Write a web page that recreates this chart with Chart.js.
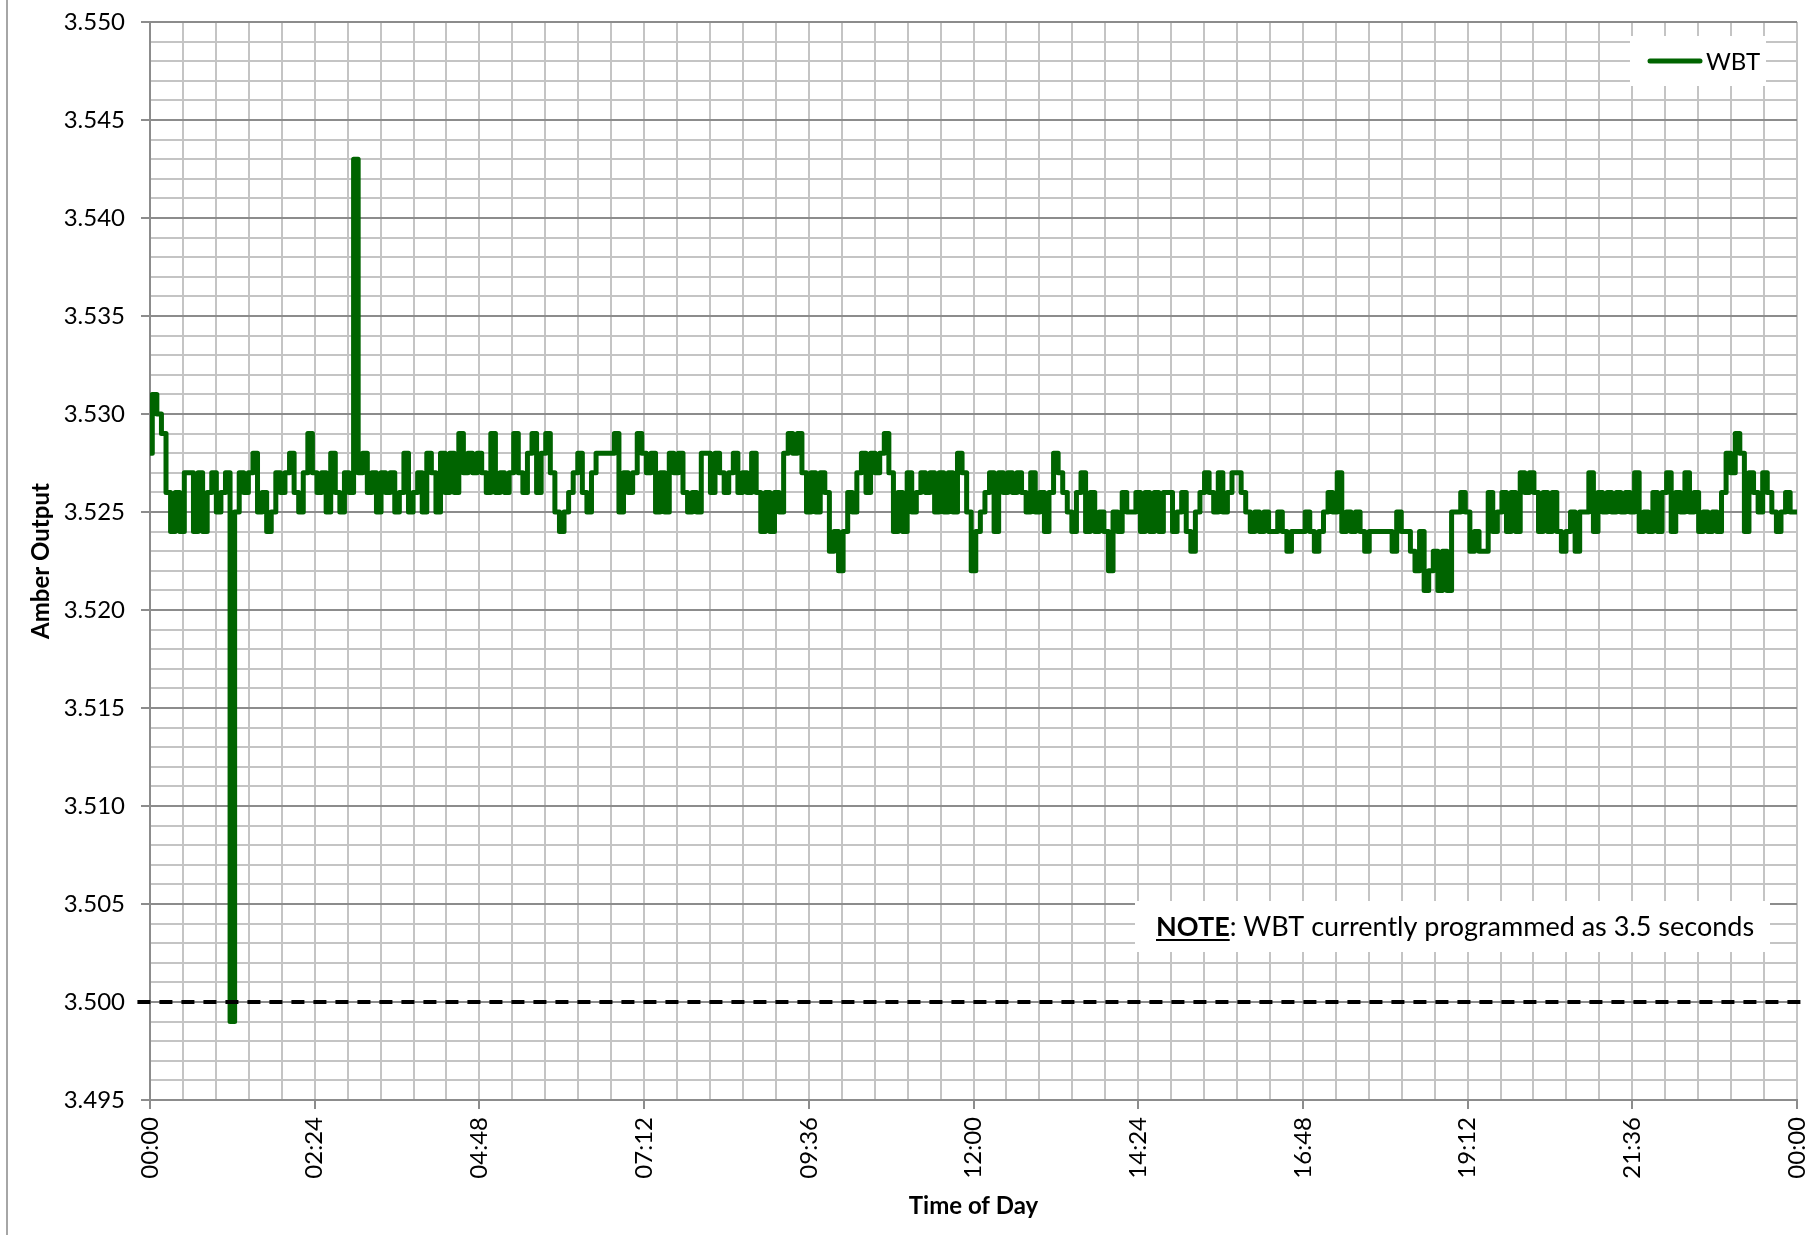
<!DOCTYPE html>
<html>
<head>
<meta charset="utf-8">
<title>Amber Output - WBT</title>
<script src="https://cdn.jsdelivr.net/npm/chart.js@4.4.1/dist/chart.umd.min.js"></script>
<style>
  html, body { margin: 0; padding: 0; background: #fff; }
  canvas { display: block; }
</style>
</head>
<body>
<canvas id="wbt-chart" width="1816" height="1235"></canvas>
<script>
// amber output in seconds, one reading every 4 minutes
const SAMPLE_MINUTES = 4;

// 00:00 - 04:48
const amberNight = [
  3.528, 3.531, 3.530, 3.529, 3.526, 3.524, 3.526, 3.524, 3.527, 3.527,
  3.524, 3.527, 3.524, 3.526, 3.527, 3.525, 3.526, 3.527, 3.499, 3.525,
  3.527, 3.526, 3.527, 3.528, 3.525, 3.526, 3.524, 3.525, 3.527, 3.526,
  3.527, 3.528, 3.526, 3.525, 3.527, 3.529, 3.527, 3.526, 3.527, 3.525,
  3.528, 3.526, 3.525, 3.527, 3.526, 3.543, 3.527, 3.528, 3.526, 3.527,
  3.525, 3.527, 3.526, 3.527, 3.525, 3.526, 3.528, 3.525, 3.526, 3.527,
  3.525, 3.528, 3.527, 3.525, 3.528, 3.526, 3.528, 3.526, 3.529, 3.527,
  3.528, 3.527, 3.528
];
// 04:52 - 09:36
const amberMorning = [
  3.527, 3.526, 3.529, 3.526, 3.527, 3.526, 3.527, 3.529, 3.527, 3.526,
  3.528, 3.529, 3.526, 3.528, 3.529, 3.527, 3.525, 3.524, 3.525, 3.526,
  3.527, 3.528, 3.526, 3.525, 3.527, 3.528, 3.528, 3.528, 3.528, 3.529,
  3.525, 3.527, 3.526, 3.527, 3.529, 3.528, 3.527, 3.528, 3.525, 3.527,
  3.525, 3.528, 3.527, 3.528, 3.526, 3.525, 3.526, 3.525, 3.528, 3.528,
  3.526, 3.528, 3.527, 3.526, 3.527, 3.528, 3.526, 3.527, 3.526, 3.528,
  3.526, 3.524, 3.526, 3.524, 3.526, 3.525, 3.528, 3.529, 3.528, 3.529,
  3.527, 3.525
];
// 09:40 - 14:24
const amberMidday = [
  3.527, 3.525, 3.527, 3.526, 3.523, 3.524, 3.522, 3.524, 3.526, 3.525,
  3.527, 3.528, 3.526, 3.528, 3.527, 3.528, 3.529, 3.527, 3.524, 3.526,
  3.524, 3.527, 3.525, 3.526, 3.527, 3.526, 3.527, 3.525, 3.527, 3.525,
  3.527, 3.525, 3.528, 3.527, 3.525, 3.522, 3.524, 3.525, 3.526, 3.527,
  3.524, 3.527, 3.526, 3.527, 3.526, 3.527, 3.526, 3.525, 3.527, 3.525,
  3.526, 3.524, 3.526, 3.528, 3.527, 3.526, 3.525, 3.524, 3.526, 3.527,
  3.524, 3.526, 3.524, 3.525, 3.524, 3.522, 3.525, 3.524, 3.526, 3.525,
  3.525, 3.526
];
// 14:28 - 19:12
const amberAfternoon = [
  3.524, 3.526, 3.524, 3.526, 3.524, 3.526, 3.526, 3.524, 3.525, 3.526,
  3.524, 3.523, 3.525, 3.526, 3.527, 3.526, 3.525, 3.527, 3.525, 3.526,
  3.527, 3.527, 3.526, 3.525, 3.524, 3.525, 3.524, 3.525, 3.524, 3.524,
  3.525, 3.524, 3.523, 3.524, 3.524, 3.524, 3.525, 3.524, 3.523, 3.524,
  3.525, 3.526, 3.525, 3.527, 3.524, 3.525, 3.524, 3.525, 3.524, 3.523,
  3.524, 3.524, 3.524, 3.524, 3.524, 3.523, 3.525, 3.524, 3.524, 3.523,
  3.522, 3.524, 3.521, 3.522, 3.523, 3.521, 3.523, 3.521, 3.525, 3.525,
  3.526, 3.525
];
// 19:16 - 24:00
const amberEvening = [
  3.523, 3.524, 3.523, 3.523, 3.526, 3.524, 3.525, 3.526, 3.524, 3.526,
  3.524, 3.527, 3.526, 3.527, 3.526, 3.524, 3.526, 3.524, 3.526, 3.524,
  3.523, 3.524, 3.525, 3.523, 3.525, 3.525, 3.527, 3.524, 3.526, 3.525,
  3.526, 3.525, 3.526, 3.525, 3.526, 3.525, 3.527, 3.524, 3.525, 3.524,
  3.526, 3.524, 3.526, 3.527, 3.524, 3.526, 3.525, 3.527, 3.525, 3.526,
  3.524, 3.525, 3.524, 3.525, 3.524, 3.526, 3.528, 3.527, 3.529, 3.528,
  3.524, 3.527, 3.526, 3.525, 3.527, 3.526, 3.525, 3.524, 3.525, 3.526,
  3.525, 3.525
];

const amber = [...amberNight, ...amberMorning, ...amberMidday, ...amberAfternoon, ...amberEvening];

// programmed WBT, drawn slightly past both ends of the day (minutes)
const wbtSetting = 3.5;
const wbtSpan = [-11, 1446];

// axes
const yRange = [3.495, 3.55];
const yMajorStep = 0.005;
const yMinorStep = 0.001;
const xRange = [0, 1440];
const xMajorStep = 144;   // 02:24
const xMinorStep = 28.8;

const NOTE_LEAD = 'NOTE';
const NOTE_TEXT = ': WBT currently programmed as 3.5 seconds';

const FONT = 'Lato, "Open Sans", sans-serif';
Chart.defaults.font.family = FONT;
Chart.defaults.color = '#000';

const isMajorY = v => Math.round(v * 1000) % Math.round(yMajorStep * 1000) === 0;
const isMajorX = v => Math.round(v) % xMajorStep === 0;
const pad2 = n => String(n).padStart(2, '0');
const clockLabel = v => {
  const m = Math.round(v);
  return pad2(Math.floor(m / 60) % 24) + ':' + pad2(m % 60);
};

// white page plus the outer frame edge on the left
const chartFrame = {
  id: 'chartFrame',
  beforeDraw(chart) {
    const {ctx, width, height} = chart;
    ctx.save();
    ctx.fillStyle = '#fff';
    ctx.fillRect(0, 0, width, height);
    ctx.strokeStyle = '#a6a6a6';
    ctx.lineWidth = 2;
    ctx.beginPath();
    ctx.moveTo(7, 0);
    ctx.lineTo(7, height);
    ctx.stroke();
    ctx.restore();
  }
};

// legend sits inside the plot, top right
const legendBox = {
  id: 'legendBox',
  afterDraw(chart) {
    const {ctx, chartArea} = chart;
    const ds = chart.data.datasets[0];
    const w = 136, h = 50;
    const left = chartArea.right - 31 - w;
    const top = chartArea.top + 14;
    const cy = top + h / 2;
    ctx.save();
    ctx.fillStyle = '#fff';
    ctx.fillRect(left, top, w, h);
    ctx.strokeStyle = ds.borderColor;
    ctx.lineWidth = ds.borderWidth;
    ctx.lineCap = 'round';
    ctx.beginPath();
    ctx.moveTo(left + 20, cy);
    ctx.lineTo(left + 70, cy);
    ctx.stroke();
    ctx.fillStyle = '#000';
    ctx.font = '24px ' + FONT;
    ctx.textBaseline = 'alphabetic';
    ctx.fillText(ds.label, left + 76, cy + 9);
    ctx.restore();
  }
};

// note box just above the programmed line
const noteBox = {
  id: 'noteBox',
  afterDraw(chart) {
    const {ctx, chartArea} = chart;
    const w = 635, h = 51;
    const left = chartArea.right - 27 - w;
    const top = chartArea.bottom - 199;
    const base = top + 35;
    ctx.save();
    ctx.fillStyle = '#fff';
    ctx.fillRect(left, top, w, h);
    ctx.fillStyle = '#000';
    ctx.textBaseline = 'alphabetic';
    let x = left + 21;
    ctx.font = 'bold 27px ' + FONT;
    ctx.fillText(NOTE_LEAD, x, base);
    const leadW = ctx.measureText(NOTE_LEAD).width;
    ctx.fillRect(x, base + 3, leadW, 2);
    x += leadW;
    ctx.font = '27px ' + FONT;
    ctx.fillText(NOTE_TEXT, x, base);
    ctx.restore();
  }
};

new Chart(document.getElementById('wbt-chart'), {
  type: 'line',
  data: {
    datasets: [
      {
        label: 'WBT',
        data: amber.map((v, i) => ({x: i * SAMPLE_MINUTES, y: v})),
        borderColor: '#006400',
        borderWidth: 5,
        borderJoinStyle: 'round',
        borderCapStyle: 'round',
        stepped: 'middle',
        pointRadius: 0
      },
      {
        label: 'WBT setting',
        data: wbtSpan.map(x => ({x, y: wbtSetting})),
        borderColor: '#000',
        borderWidth: 4,
        borderDash: [13, 9],
        pointRadius: 0,
        clip: false,
        order: -1
      }
    ]
  },
  options: {
    responsive: false,
    animation: false,
    layout: {padding: {top: 22, right: 19, bottom: 0, left: 0}},
    plugins: {
      legend: {display: false},
      tooltip: {enabled: false}
    },
    scales: {
      x: {
        type: 'linear',
        min: xRange[0],
        max: xRange[1],
        afterFit(scale) {
          scale.height = 135;
          scale.paddingLeft = 0;
          scale.paddingRight = 0;
        },
        ticks: {
          stepSize: xMinorStep,
          autoSkip: false,
          minRotation: 90,
          maxRotation: 90,
          padding: 8,
          font: {size: 24},
          callback: v => isMajorX(v) ? clockLabel(v) : ''
        },
        grid: {
          color: '#c4c4c4',
          lineWidth: 2,
          tickLength: 9,
          tickWidth: 2,
          tickColor: c => (c.tick && isMajorX(c.tick.value)) ? '#8c8c8c' : 'rgba(0,0,0,0)'
        },
        border: {color: '#8c8c8c', width: 2},
        title: {
          display: true,
          text: 'Time of Day',
          font: {size: 24, weight: 'bold'},
          padding: {top: 0, bottom: 14}
        }
      },
      y: {
        min: yRange[0],
        max: yRange[1],
        afterFit(scale) {
          scale.width = 150;
          scale.paddingTop = 0;
          scale.paddingBottom = 0;
        },
        ticks: {
          stepSize: yMinorStep,
          maxTicksLimit: 100,
          autoSkip: false,
          padding: 16,
          font: {size: 24},
          callback: v => isMajorY(v) ? v.toFixed(3) : ''
        },
        grid: {
          color: c => (c.tick && isMajorY(c.tick.value)) ? '#8c8c8c' : '#c4c4c4',
          lineWidth: 2,
          tickLength: 9,
          tickWidth: 2,
          tickColor: c => (c.tick && isMajorY(c.tick.value)) ? '#8c8c8c' : 'rgba(0,0,0,0)'
        },
        border: {color: '#8c8c8c', width: 2},
        title: {
          display: true,
          text: 'Amber Output',
          font: {size: 24, weight: 'bold'},
          padding: {top: 27, bottom: 0}
        }
      }
    }
  },
  plugins: [chartFrame, legendBox, noteBox]
});
</script>
</body>
</html>
